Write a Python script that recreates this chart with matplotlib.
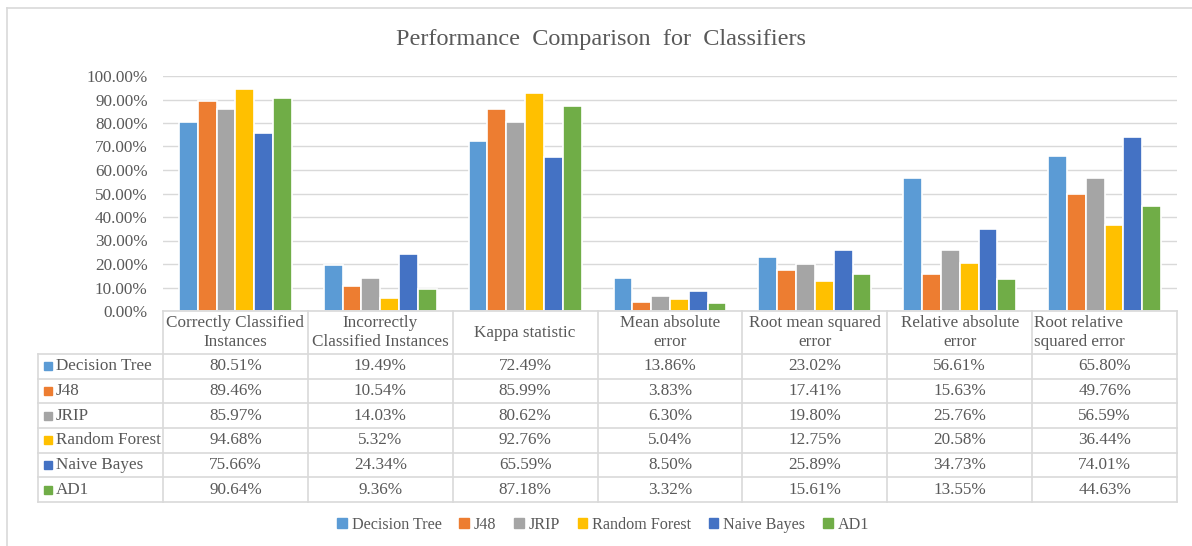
import matplotlib.pyplot as plt
from matplotlib.patches import Patch
from matplotlib.ticker import FuncFormatter
import numpy as np

plt.rcParams['font.family'] = ['Liberation Serif', 'DejaVu Serif']

metrics = ["Correctly Classified\nInstances", "Incorrectly\nClassified Instances",
           "Kappa statistic", "Mean absolute\nerror", "Root mean squared\nerror",
           "Relative absolute\nerror", "Root relative\nsquared error"]
classifiers = ["Decision Tree", "J48", "JRIP", "Random Forest", "Naive Bayes", "AD1"]
colors = ["#5B9BD5", "#ED7D31", "#A5A5A5", "#FFC000", "#4472C4", "#70AD47"]

decision_tree = [80.51, 19.49, 72.49, 13.86, 23.02, 56.61, 65.80]
j48 = [89.46, 10.54, 85.99, 3.83, 17.41, 15.63, 49.76]
jrip = [85.97, 14.03, 80.62, 6.30, 19.80, 25.76, 56.59]
random_forest = [94.68, 5.32, 92.76, 5.04, 12.75, 20.58, 36.44]
naive_bayes = [75.66, 24.34, 65.59, 8.50, 25.89, 34.73, 74.01]
ad1 = [90.64, 9.36, 87.18, 3.32, 15.61, 13.55, 44.63]
series = [decision_tree, j48, jrip, random_forest, naive_bayes, ad1]

W, H = 1192, 546
TXT = "#595959"
GRID = "#D9D9D9"
FS = 12.3


def box(l, t, r, b):
    return [l / W, 1 - b / H, (r - l) / W, (b - t) / H]


fig = plt.figure(figsize=(W / 100, H / 100), dpi=100)

# chart border (cut off at right/bottom like the screenshot)
fig.add_artist(plt.Line2D([7 / W, 1], [1 - 8 / H, 1 - 8 / H], color=GRID, lw=1.2))
fig.add_artist(plt.Line2D([7 / W, 7 / W], [0, 1 - 8 / H], color=GRID, lw=1.2))

fig.text(601 / W, 1 - 40 / H, "Performance  Comparison  for  Classifiers",
         ha="center", va="center", fontsize=17.5, color=TXT)

# bar chart
ax = fig.add_axes(box(163, 76, 1177, 311))
n = len(classifiers)
x = np.arange(len(metrics))
bw = 0.78 / n
for i, (vals, c) in enumerate(zip(series, colors)):
    ax.bar(x - 0.39 + bw * (i + 0.5), np.array(vals) / 100, width=bw,
           color=c, edgecolor="white", linewidth=1.2, zorder=3)
ax.set_xlim(-0.5, len(metrics) - 0.5)
ax.set_ylim(0, 1)
ax.set_yticks(np.arange(0, 1.01, 0.1))
ax.yaxis.set_major_formatter(FuncFormatter(lambda v, p: f"{v * 100:.2f}%"))
ax.set_xticks([])
ax.grid(axis="y", color=GRID, lw=1, zorder=0)
for s in ax.spines.values():
    s.set_visible(False)
ax.tick_params(axis="y", length=0, labelsize=FS, labelcolor=TXT, pad=11)

# data table
tb = fig.add_axes(box(38, 311, 1177, 503))
tb.set_xlim(38, 1177)
tb.set_ylim(503, 311)
tb.axis("off")
col0 = 163
cw = (1177 - col0) / len(metrics)
hdr_bot = 354
rh = (502 - hdr_bot) / n

lc = dict(color=GRID, lw=1.2, clip_on=False)
tb.plot([col0, 1177], [311, 311], **lc)
for k in range(n + 1):
    tb.plot([38, 1177], [hdr_bot + k * rh] * 2, **lc)
tb.plot([38, 38], [hdr_bot, hdr_bot + n * rh], **lc)
for j in range(len(metrics) + 1):
    tb.plot([col0 + j * cw] * 2, [311, hdr_bot + n * rh], **lc)

for j, m in enumerate(metrics):
    if j == len(metrics) - 1:
        tb.text(col0 + j * cw + 2, 333, m, ha="left", va="center", fontsize=FS,
                color=TXT, linespacing=1.25)
    else:
        tb.text(col0 + (j + 0.5) * cw, 333, m, ha="center", va="center",
                fontsize=FS, color=TXT, linespacing=1.25)

for i, (name, vals, c) in enumerate(zip(classifiers, series, colors)):
    yc = hdr_bot + (i + 0.5) * rh
    tb.add_patch(plt.Rectangle((44, yc - 4), 8, 8, color=c, clip_on=False))
    tb.text(56, yc, name, ha="left", va="center", fontsize=FS, color=TXT)
    for j, v in enumerate(vals):
        tb.text(col0 + (j + 0.5) * cw, yc, f"{v:.2f}%", ha="center", va="center",
                fontsize=FS, color=TXT)

handles = [Patch(color=c, label=l) for c, l in zip(colors, classifiers)]
fig.legend(handles=handles, loc="center", bbox_to_anchor=(603 / W, 1 - 525 / H),
           ncol=n, frameon=False, fontsize=11.6, labelcolor=TXT,
           handlelength=0.6, handleheight=0.6, handletextpad=0.3, columnspacing=1.1)

fig.savefig("out.png", dpi=100)
